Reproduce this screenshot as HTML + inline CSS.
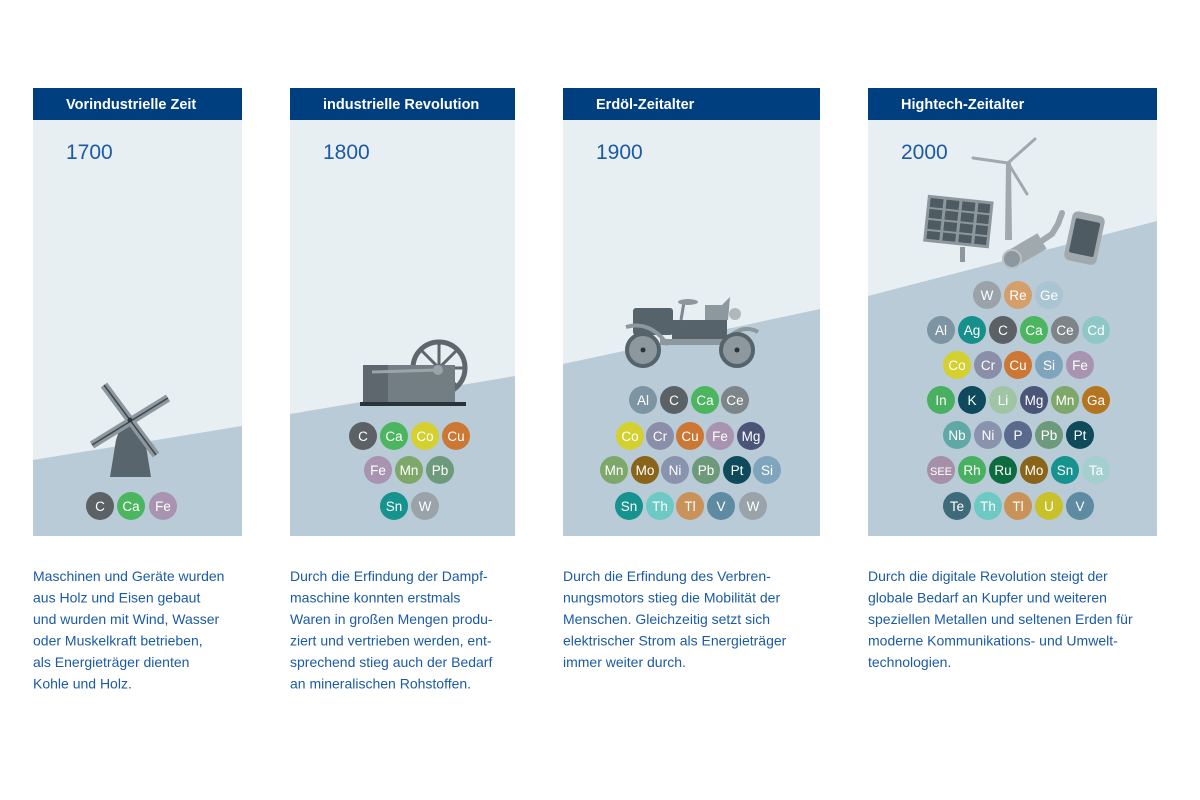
<!DOCTYPE html>
<html><head><meta charset="utf-8"><style>
html,body{margin:0;padding:0;background:#fff;}
svg{display:block;}
.h{font-family:"Liberation Sans",sans-serif;font-weight:bold;font-size:14.5px;fill:#fff;}
.y{font-family:"Liberation Sans",sans-serif;font-size:21px;fill:#1c5aa3;}
.t{font-family:"Liberation Sans",sans-serif;font-size:14px;fill:#1b5aa6;}
.e text{font-family:"Liberation Sans",sans-serif;font-size:13.5px;fill:#fff;text-anchor:middle;}
</style></head><body>
<svg width="1200" height="800" viewBox="0 0 1200 800" xmlns="http://www.w3.org/2000/svg">
<rect x="33" y="120" width="209" height="416" fill="#e8eff3"/>
<polygon points="33,460 242,426 242,536 33,536" fill="#b8cbd7"/>
<rect x="290" y="120" width="225" height="416" fill="#e8eff3"/>
<polygon points="290,414 515,376 515,536 290,536" fill="#b8cbd7"/>
<rect x="563" y="120" width="257" height="416" fill="#e8eff3"/>
<polygon points="563,364 820,309 820,536 563,536" fill="#b8cbd7"/>
<rect x="868" y="120" width="289" height="416" fill="#e8eff3"/>
<polygon points="868,296 1157,221 1157,536 868,536" fill="#b8cbd7"/>

<rect x="33" y="88" width="209" height="32" fill="#003f7f"/>
<rect x="290" y="88" width="225" height="32" fill="#003f7f"/>
<rect x="563" y="88" width="257" height="32" fill="#003f7f"/>
<rect x="868" y="88" width="289" height="32" fill="#003f7f"/>
<text class="h" x="66" y="109">Vorindustrielle Zeit</text>
<text class="h" x="323" y="109">industrielle Revolution</text>
<text class="h" x="596" y="109">Erdöl-Zeitalter</text>
<text class="h" x="901" y="109">Hightech-Zeitalter</text>
<text class="y" x="66" y="159">1700</text>
<text class="y" x="323" y="159">1800</text>
<text class="y" x="596" y="159">1900</text>
<text class="y" x="901" y="159">2000</text>

<!-- windmill -->
<polygon points="120,428 128,422 140,428 145,440 151,477 110,477 116,440" fill="#59656c"/>
<g stroke-linecap="butt">
<line x1="104" y1="385" x2="156" y2="455" stroke="#8d989e" stroke-width="8"/>
<line x1="92" y1="445" x2="168" y2="398" stroke="#8d989e" stroke-width="8"/>
<line x1="104" y1="385" x2="156" y2="455" stroke="#3c464c" stroke-width="1.5"/>
<line x1="92" y1="445" x2="168" y2="398" stroke="#3c464c" stroke-width="1.5"/>
</g>
<circle cx="130" cy="420" r="2.5" fill="#2e383d"/>

<!-- steam engine -->
<circle cx="439" cy="368" r="26" fill="none" stroke="#5d676d" stroke-width="5"/>
<g stroke="#5d676d" stroke-width="3">
<line x1="439" y1="342" x2="439" y2="394"/><line x1="413" y1="368" x2="465" y2="368"/>
<line x1="421" y1="350" x2="457" y2="386"/><line x1="457" y1="350" x2="421" y2="386"/>
</g>
<rect x="363" y="365" width="92" height="38" fill="#737e84"/>
<rect x="363" y="365" width="25" height="38" fill="#5d676d"/>
<line x1="372" y1="372" x2="438" y2="370" stroke="#9aa3a8" stroke-width="3"/>
<circle cx="438" cy="370" r="5" fill="#9aa3a8"/>
<rect x="360" y="402" width="106" height="4" fill="#27343a"/>

<!-- car -->
<rect x="633" y="308" width="40" height="27" rx="3" fill="#56636b"/>
<rect x="672" y="320" width="55" height="22" fill="#56636b"/>
<polygon points="705,320 728,320 730,297 722,305 705,305" fill="#8d989e"/>
<circle cx="735" cy="314" r="6" fill="#b0b8bc"/>
<line x1="684" y1="302" x2="681" y2="320" stroke="#7d878d" stroke-width="3"/>
<ellipse cx="688" cy="302" rx="10" ry="3" fill="#8d989e"/>
<rect x="660" y="339" width="70" height="6" fill="#8d989e"/>
<path d="M626 327 Q650 320 668 345" fill="none" stroke="#8d989e" stroke-width="4"/>
<path d="M722 345 Q740 322 758 332" fill="none" stroke="#8d989e" stroke-width="4"/>
<circle cx="643" cy="350" r="16" fill="#8d989e" stroke="#56636b" stroke-width="4"/>
<circle cx="737" cy="350" r="16" fill="#8d989e" stroke="#56636b" stroke-width="4"/>
<circle cx="643" cy="350" r="2.5" fill="#27343a"/><circle cx="737" cy="350" r="2.5" fill="#27343a"/>

<!-- hightech -->
<g transform="rotate(6 958 225)">
<rect x="925" y="198" width="66" height="47" fill="#8d989e"/>
<g fill="#4f5b62">
<rect x="928" y="201" width="13" height="9"/><rect x="944" y="201" width="13" height="9"/><rect x="960" y="201" width="13" height="9"/><rect x="976" y="201" width="12" height="9"/>
<rect x="928" y="212" width="13" height="9"/><rect x="944" y="212" width="13" height="9"/><rect x="960" y="212" width="13" height="9"/><rect x="976" y="212" width="12" height="9"/>
<rect x="928" y="223" width="13" height="9"/><rect x="944" y="223" width="13" height="9"/><rect x="960" y="223" width="13" height="9"/><rect x="976" y="223" width="12" height="9"/>
<rect x="928" y="234" width="13" height="8"/><rect x="944" y="234" width="13" height="8"/><rect x="960" y="234" width="13" height="8"/><rect x="976" y="234" width="12" height="8"/>
</g></g>
<rect x="960" y="247" width="5" height="15" fill="#8d989e"/>
<polygon points="1006,163 1011,163 1012,240 1005,240" fill="#a0a9ae"/>
<g stroke="#a0a9ae" stroke-width="3" stroke-linecap="round">
<line x1="1008" y1="163" x2="1035" y2="139"/><line x1="1008" y1="163" x2="973" y2="158"/><line x1="1008" y1="163" x2="1027" y2="194"/>
</g>
<path d="M1040 242 L1052 234 L1058 224 L1062 213" fill="none" stroke="#a0a9ae" stroke-width="6" stroke-linecap="round"/>
<line x1="1013" y1="258" x2="1042" y2="241" stroke="#a0a9ae" stroke-width="18"/>
<circle cx="1012" cy="259" r="9" fill="#8d989e" stroke="#b8c0c4" stroke-width="2"/>
<rect x="1068" y="213" width="33" height="50" rx="6" fill="#a0a9ae" transform="rotate(12 1084 238)"/>
<rect x="1072" y="220" width="25" height="35" rx="2" fill="#4f5b62" transform="rotate(12 1084 238)"/>

<g class="e">
<circle cx="100" cy="506" r="14" fill="#5c6166"/><text x="100" y="511">C</text>
<circle cx="131" cy="506" r="14" fill="#4cb560"/><text x="131" y="511">Ca</text>
<circle cx="163" cy="506" r="14" fill="#a893b0"/><text x="163" y="511">Fe</text>
<circle cx="363" cy="436" r="14" fill="#5c6166"/><text x="363" y="441">C</text>
<circle cx="394" cy="436" r="14" fill="#4cb560"/><text x="394" y="441">Ca</text>
<circle cx="425" cy="436" r="14" fill="#d4d030"/><text x="425" y="441">Co</text>
<circle cx="456" cy="436" r="14" fill="#cc7733"/><text x="456" y="441">Cu</text>
<circle cx="378" cy="470" r="14" fill="#a893b0"/><text x="378" y="475">Fe</text>
<circle cx="409" cy="470" r="14" fill="#7ea86a"/><text x="409" y="475">Mn</text>
<circle cx="440" cy="470" r="14" fill="#6e9a7c"/><text x="440" y="475">Pb</text>
<circle cx="394" cy="506" r="14" fill="#16928f"/><text x="394" y="511">Sn</text>
<circle cx="425" cy="506" r="14" fill="#9aa3aa"/><text x="425" y="511">W</text>
<circle cx="643" cy="400" r="14" fill="#7d95a3"/><text x="643" y="405">Al</text>
<circle cx="674" cy="400" r="14" fill="#5c6166"/><text x="674" y="405">C</text>
<circle cx="705" cy="400" r="14" fill="#4cb560"/><text x="705" y="405">Ca</text>
<circle cx="735" cy="400" r="14" fill="#7d8589"/><text x="735" y="405">Ce</text>
<circle cx="630" cy="436" r="14" fill="#d4d030"/><text x="630" y="441">Co</text>
<circle cx="660" cy="436" r="14" fill="#8a8ea8"/><text x="660" y="441">Cr</text>
<circle cx="690" cy="436" r="14" fill="#cc7733"/><text x="690" y="441">Cu</text>
<circle cx="720" cy="436" r="14" fill="#a893b0"/><text x="720" y="441">Fe</text>
<circle cx="751" cy="436" r="14" fill="#4a5577"/><text x="751" y="441">Mg</text>
<circle cx="614" cy="470" r="14" fill="#7ea86a"/><text x="614" y="475">Mn</text>
<circle cx="645" cy="470" r="14" fill="#8a6418"/><text x="645" y="475">Mo</text>
<circle cx="675" cy="470" r="14" fill="#8a93ad"/><text x="675" y="475">Ni</text>
<circle cx="706" cy="470" r="14" fill="#6e9a7c"/><text x="706" y="475">Pb</text>
<circle cx="737" cy="470" r="14" fill="#0e4a5a"/><text x="737" y="475">Pt</text>
<circle cx="767" cy="470" r="14" fill="#7fa5bc"/><text x="767" y="475">Si</text>
<circle cx="629" cy="506" r="14" fill="#16928f"/><text x="629" y="511">Sn</text>
<circle cx="660" cy="506" r="14" fill="#6dc9c3"/><text x="660" y="511">Th</text>
<circle cx="690" cy="506" r="14" fill="#c99258"/><text x="690" y="511">Tl</text>
<circle cx="721" cy="506" r="14" fill="#5e8aa2"/><text x="721" y="511">V</text>
<circle cx="753" cy="506" r="14" fill="#9aa3aa"/><text x="753" y="511">W</text>
<circle cx="987" cy="295" r="14" fill="#9aa3aa"/><text x="987" y="300">W</text>
<circle cx="1018" cy="295" r="14" fill="#d59f6b"/><text x="1018" y="300">Re</text>
<circle cx="1049" cy="295" r="14" fill="#a9c4d2"/><text x="1049" y="300">Ge</text>
<circle cx="941" cy="330" r="14" fill="#7d95a3"/><text x="941" y="335">Al</text>
<circle cx="972" cy="330" r="14" fill="#17908c"/><text x="972" y="335">Ag</text>
<circle cx="1003" cy="330" r="14" fill="#5c6166"/><text x="1003" y="335">C</text>
<circle cx="1034" cy="330" r="14" fill="#4cb560"/><text x="1034" y="335">Ca</text>
<circle cx="1065" cy="330" r="14" fill="#7d8589"/><text x="1065" y="335">Ce</text>
<circle cx="1096" cy="330" r="14" fill="#8fc7c7"/><text x="1096" y="335">Cd</text>
<circle cx="957" cy="365" r="14" fill="#d4d030"/><text x="957" y="370">Co</text>
<circle cx="988" cy="365" r="14" fill="#8a8ea8"/><text x="988" y="370">Cr</text>
<circle cx="1018" cy="365" r="14" fill="#cc7733"/><text x="1018" y="370">Cu</text>
<circle cx="1049" cy="365" r="14" fill="#7fa5bc"/><text x="1049" y="370">Si</text>
<circle cx="1080" cy="365" r="14" fill="#a893b0"/><text x="1080" y="370">Fe</text>
<circle cx="941" cy="400" r="14" fill="#48b060"/><text x="941" y="405">In</text>
<circle cx="972" cy="400" r="14" fill="#0f4a5c"/><text x="972" y="405">K</text>
<circle cx="1003" cy="400" r="14" fill="#a0c5a5"/><text x="1003" y="405">Li</text>
<circle cx="1034" cy="400" r="14" fill="#4a5577"/><text x="1034" y="405">Mg</text>
<circle cx="1065" cy="400" r="14" fill="#7ea86a"/><text x="1065" y="405">Mn</text>
<circle cx="1096" cy="400" r="14" fill="#b5741f"/><text x="1096" y="405">Ga</text>
<circle cx="957" cy="435" r="14" fill="#5fa8a5"/><text x="957" y="440">Nb</text>
<circle cx="988" cy="435" r="14" fill="#8a93ad"/><text x="988" y="440">Ni</text>
<circle cx="1018" cy="435" r="14" fill="#5a6a8c"/><text x="1018" y="440">P</text>
<circle cx="1049" cy="435" r="14" fill="#6e9a7c"/><text x="1049" y="440">Pb</text>
<circle cx="1080" cy="435" r="14" fill="#0e4a5a"/><text x="1080" y="440">Pt</text>
<circle cx="941" cy="470" r="14" fill="#a690a8"/><text x="941" y="475" style="font-size:11px">SEE</text>
<circle cx="972" cy="470" r="14" fill="#48b060"/><text x="972" y="475">Rh</text>
<circle cx="1003" cy="470" r="14" fill="#0d6b3f"/><text x="1003" y="475">Ru</text>
<circle cx="1034" cy="470" r="14" fill="#8a6418"/><text x="1034" y="475">Mo</text>
<circle cx="1065" cy="470" r="14" fill="#16928f"/><text x="1065" y="475">Sn</text>
<circle cx="1096" cy="470" r="14" fill="#a3cfcf"/><text x="1096" y="475">Ta</text>
<circle cx="957" cy="506" r="14" fill="#3e6a7a"/><text x="957" y="511">Te</text>
<circle cx="988" cy="506" r="14" fill="#6dc9c3"/><text x="988" y="511">Th</text>
<circle cx="1018" cy="506" r="14" fill="#c99258"/><text x="1018" y="511">Tl</text>
<circle cx="1049" cy="506" r="14" fill="#c8c12a"/><text x="1049" y="511">U</text>
<circle cx="1080" cy="506" r="14" fill="#5e8aa2"/><text x="1080" y="511">V</text>
</g>

<g class="t">
<text x="33" y="581">Maschinen und Geräte wurden</text>
<text x="33" y="602.5">aus Holz und Eisen gebaut</text>
<text x="33" y="624">und wurden mit Wind, Wasser</text>
<text x="33" y="645.5">oder Muskelkraft betrieben,</text>
<text x="33" y="667">als Energieträger dienten</text>
<text x="33" y="688.5">Kohle und Holz.</text>
<text x="290" y="581">Durch die Erfindung der Dampf-</text>
<text x="290" y="602.5">maschine konnten erstmals</text>
<text x="290" y="624">Waren in großen Mengen produ-</text>
<text x="290" y="645.5">ziert und vertrieben werden, ent-</text>
<text x="290" y="667">sprechend stieg auch der Bedarf</text>
<text x="290" y="688.5">an mineralischen Rohstoffen.</text>
<text x="563" y="581">Durch die Erfindung des Verbren-</text>
<text x="563" y="602.5">nungsmotors stieg die Mobilität der</text>
<text x="563" y="624">Menschen. Gleichzeitig setzt sich</text>
<text x="563" y="645.5">elektrischer Strom als Energieträger</text>
<text x="563" y="667">immer weiter durch.</text>
<text x="868" y="581">Durch die digitale Revolution steigt der</text>
<text x="868" y="602.5">globale Bedarf an Kupfer und weiteren</text>
<text x="868" y="624">speziellen Metallen und seltenen Erden für</text>
<text x="868" y="645.5">moderne Kommunikations- und Umwelt-</text>
<text x="868" y="667">technologien.</text>
</g>
</svg>
</body></html>
